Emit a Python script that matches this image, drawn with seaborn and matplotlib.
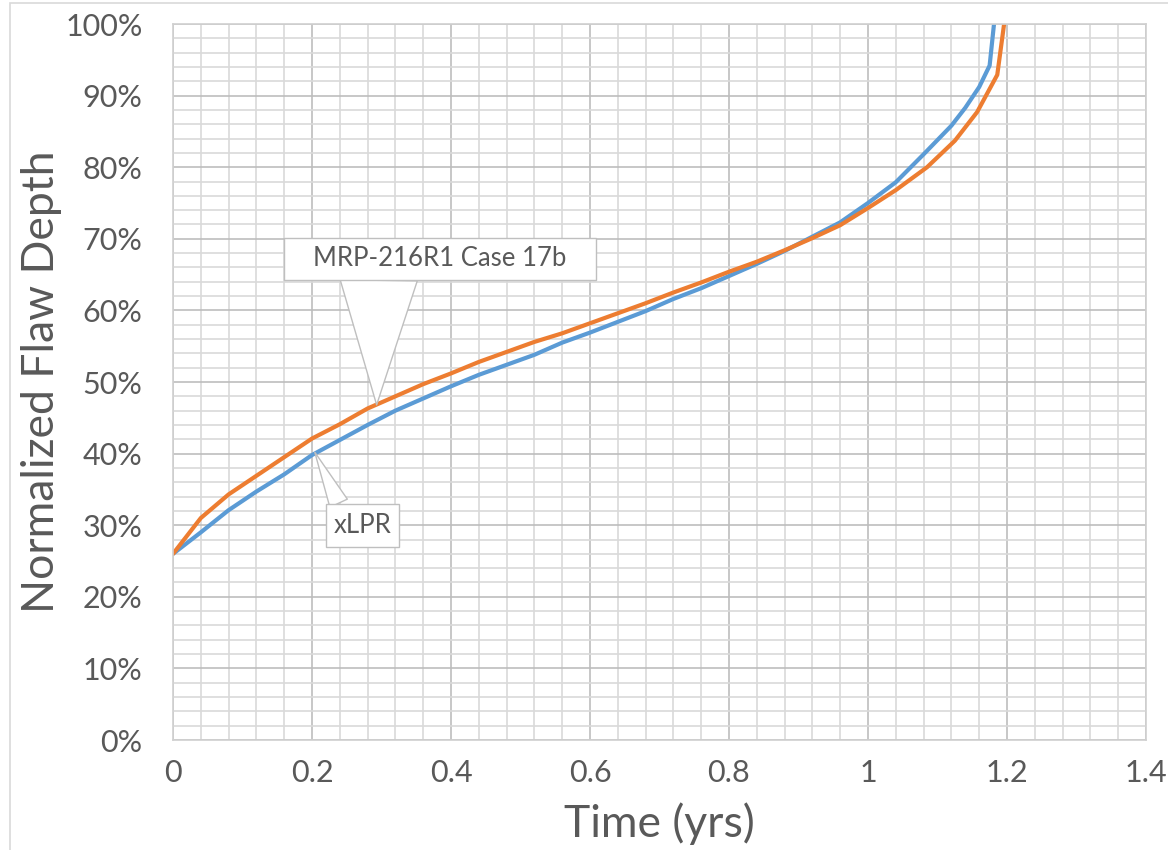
"""
Flaw depth growth: xLPR vs MRP-216R1 Case 17b
"""
import matplotlib
matplotlib.use("Agg")
import matplotlib.pyplot as plt
from matplotlib.patches import Rectangle
from matplotlib.path import Path
from matplotlib.ticker import MultipleLocator, FixedLocator, FixedFormatter
import pandas as pd
import seaborn as sns

# 数据
xlpr_time = [0, 0.04, 0.08, 0.12, 0.16, 0.20, 0.24, 0.28, 0.32, 0.36, 0.40,
             0.44, 0.48, 0.52, 0.56, 0.60, 0.64, 0.68, 0.72, 0.76, 0.80,
             0.84, 0.88, 0.92, 0.96, 1.00, 1.04, 1.08, 1.12, 1.14, 1.16,
             1.175, 1.19]
xlpr_depth = [0.260, 0.290, 0.321, 0.347, 0.371, 0.398, 0.419, 0.440, 0.460,
              0.477, 0.494, 0.510, 0.524, 0.538, 0.555, 0.569, 0.584, 0.599,
              0.616, 0.631, 0.648, 0.665, 0.683, 0.703, 0.723, 0.750, 0.779,
              0.818, 0.858, 0.883, 0.912, 0.942, 1.08]

mrp_time = [0, 0.04, 0.08, 0.12, 0.16, 0.20, 0.24, 0.28, 0.32, 0.36, 0.40,
            0.44, 0.48, 0.52, 0.56, 0.60, 0.64, 0.68, 0.72, 0.76, 0.80,
            0.84, 0.88, 0.92, 0.96, 1.00, 1.04, 1.085, 1.125, 1.157, 1.186,
            1.20]
mrp_depth = [0.260, 0.310, 0.343, 0.369, 0.395, 0.421, 0.441, 0.463, 0.480,
             0.497, 0.512, 0.528, 0.542, 0.556, 0.568, 0.582, 0.596, 0.610,
             0.625, 0.639, 0.654, 0.668, 0.684, 0.701, 0.719, 0.743, 0.768,
             0.800, 0.837, 0.877, 0.929, 1.03]

series_names = ["xLPR", "MRP-216R1 Case 17b"]
series_colors = ["#5B9BD5", "#ED7D31"]

x_ticks = [0, 0.2, 0.4, 0.6, 0.8, 1.0, 1.2, 1.4]
x_tick_labels = ["0", "0.2", "0.4", "0.6", "0.8", "1", "1.2", "1.4"]
y_ticks = [0, 0.1, 0.2, 0.3, 0.4, 0.5, 0.6, 0.7, 0.8, 0.9, 1.0]
y_tick_labels = ["0%", "10%", "20%", "30%", "40%", "50%", "60%", "70%",
                 "80%", "90%", "100%"]

TEXT = "#595959"


def callout_box(padx, pady):
    """矩形文本框, 水平/垂直边距分开"""
    def box(x0, y0, width, height, mutation_size):
        px = padx * mutation_size
        py = pady * mutation_size
        x0, y0 = x0 - px, y0 - py
        x1, y1 = x0 + width + 2 * px, y0 + height + 2 * py
        return Path([(x0, y0), (x1, y0), (x1, y1), (x0, y1), (x0, y0)],
                    closed=True)
    return box


df = pd.concat([
    pd.DataFrame({"time": xlpr_time, "depth": xlpr_depth, "series": series_names[0]}),
    pd.DataFrame({"time": mrp_time, "depth": mrp_depth, "series": series_names[1]}),
])

sns.set_theme(style="white")
plt.rcParams["font.family"] = ["Lato", "DejaVu Sans"]

fig = plt.figure(figsize=(11.68, 8.5), dpi=100)
ax = fig.add_axes([173 / 1168, 110 / 850, 973 / 1168, 716 / 850])

sns.lineplot(data=df, x="time", y="depth", hue="series",
             palette=dict(zip(series_names, series_colors)),
             linewidth=3.0, legend=False, ax=ax)

ax.set_xlim(0, 1.4)
ax.set_ylim(0, 1.0)

ax.xaxis.set_major_locator(FixedLocator(x_ticks))
ax.xaxis.set_major_formatter(FixedFormatter(x_tick_labels))
ax.yaxis.set_major_locator(FixedLocator(y_ticks))
ax.yaxis.set_major_formatter(FixedFormatter(y_tick_labels))
ax.xaxis.set_minor_locator(MultipleLocator(0.04))
ax.yaxis.set_minor_locator(MultipleLocator(0.02))

ax.grid(which="minor", color="#D9D9D9", linewidth=1.2)
ax.grid(which="major", color="#BDBDBD", linewidth=1.2)
ax.set_axisbelow(True)
ax.tick_params(which="both", length=0)
ax.tick_params(axis="y", labelsize=22, labelcolor=TEXT, pad=22)
ax.tick_params(axis="x", labelsize=22, labelcolor=TEXT, pad=14)

for s in ax.spines.values():
    s.set_color("#D0D0D0")
    s.set_linewidth(1.2)

ax.set_xlabel("Time (yrs)", fontsize=32, color=TEXT, labelpad=11)
ax.set_ylabel("Normalized Flaw Depth", fontsize=32, color=TEXT, labelpad=2)

# 标注
ax.annotate("MRP-216R1 Case 17b", xy=(0.293, 0.468), xytext=(0.384, 0.672),
            ha="center", va="center", fontsize=18.5, color=TEXT, zorder=5,
            bbox=dict(boxstyle=callout_box(1.15, 0.33), fc="white",
                      ec="#BFBFBF", lw=1),
            arrowprops=dict(arrowstyle="wedge,tail_width=3.0", fc="white",
                            ec="#BFBFBF", lw=1, relpos=(0.26, 0.5),
                            shrinkA=0, shrinkB=0))
ax.annotate("xLPR", xy=(0.204, 0.402), xytext=(0.273, 0.30),
            ha="center", va="center", fontsize=18.5, color=TEXT, zorder=5,
            bbox=dict(boxstyle=callout_box(0.3, 0.35), fc="white",
                      ec="#BFBFBF", lw=1),
            arrowprops=dict(arrowstyle="wedge,tail_width=0.75", fc="white",
                            ec="#BFBFBF", lw=1, relpos=(0.26, 0.5),
                            shrinkA=0, shrinkB=0))

# 图表外框
fig.add_artist(Rectangle((10 / 1168, -0.05), 1.2, 1 - 3 / 850 + 0.05,
                         transform=fig.transFigure, fill=False,
                         ec="#D9D9D9", lw=1.2))

fig.savefig("out.png", dpi=100)
